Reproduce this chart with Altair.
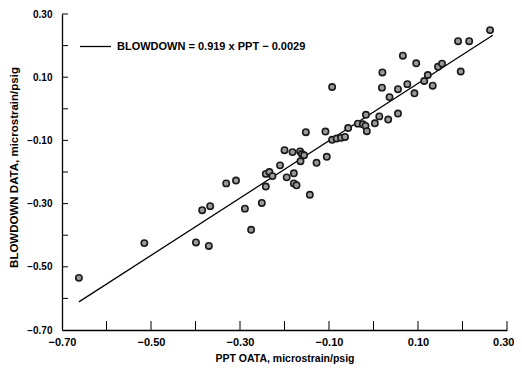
import altair as alt
import pandas as pd

# Data
ppt = [-0.662, -0.515, -0.399, -0.370, -0.385, -0.367, -0.331, -0.309, -0.289, -0.275,
       -0.251, -0.242, -0.242, -0.234, -0.227, -0.210, -0.200, -0.195, -0.182, -0.179,
       -0.179, -0.173, -0.165, -0.161, -0.156, -0.164, -0.152, -0.143, -0.128, -0.108,
       -0.105, -0.093, -0.093, -0.083, -0.073, -0.064, -0.057, -0.035, -0.024, -0.018,
       -0.015, -0.017, 0.003, 0.013, 0.020, 0.019, 0.033, 0.036, 0.055, 0.055,
       0.066, 0.076, 0.092, 0.096, 0.114, 0.122, 0.133, 0.145, 0.154, 0.190,
       0.196, 0.215, 0.262]
blowdown = [-0.535, -0.425, -0.423, -0.434, -0.321, -0.308, -0.236, -0.227, -0.316, -0.383,
            -0.298, -0.246, -0.206, -0.200, -0.213, -0.179, -0.131, -0.217, -0.137, -0.204,
            -0.236, -0.242, -0.135, -0.143, -0.147, -0.166, -0.074, -0.272, -0.171, -0.072,
            -0.152, 0.069, -0.098, -0.094, -0.092, -0.089, -0.061, -0.047, -0.049, -0.054,
            -0.071, -0.019, -0.046, -0.024, 0.115, 0.067, -0.034, 0.037, -0.015, 0.062,
            0.168, 0.078, 0.049, 0.144, 0.088, 0.107, 0.073, 0.133, 0.143, 0.214,
            0.118, 0.214, 0.249]

fit_x = [-0.662, 0.268]
fit_y = [-0.611, 0.233]
fit_label = "BLOWDOWN = 0.919 x PPT \u2212 0.0029"

label_values = [-0.7, -0.5, -0.3, -0.1, 0.1, 0.3]
tick_values = [-0.6, -0.5, -0.4, -0.3, -0.2, -0.1, 0.0, 0.1, 0.2, 0.3]

pts = pd.DataFrame({"ppt": ppt, "blowdown": blowdown})
fit = pd.DataFrame({"ppt": fit_x, "blowdown": fit_y, "label": [fit_label] * 2})
ticks = pd.DataFrame({"v": tick_values})

FONT = "Liberation Sans"
W, H = 445, 316

xscale = alt.Scale(domain=[-0.7, 0.3], nice=False, zero=False)
yscale = alt.Scale(domain=[-0.7, 0.3], nice=False, zero=False)

xaxis = alt.Axis(values=label_values, format=".2f", tickSize=0, grid=False,
                 labelPadding=6, labelFontSize=11, labelFlush=False,
                 labelAlign={"expr": "datum.value > 0.25 ? 'right' : 'center'"},
                 labelOffset={"expr": "datum.value > 0.25 ? 7 : 0"},
                 title="PPT OATA, microstrain/psig", titlePadding=6, titleFontSize=10.5)
yaxis = alt.Axis(values=label_values, format=".2f", tickSize=0, grid=False,
                 labelPadding=10, labelFontSize=10, labelFlush=False,
                 title="BLOWDOWN DATA, microstrain/psig", titleFontSize=11.5,
                 titleX=-48, titleY=153, titleBaseline="middle")

line = alt.Chart(fit).mark_line(color="black", strokeWidth=1.3).encode(
    x=alt.X("ppt:Q", scale=xscale, axis=xaxis),
    y=alt.Y("blowdown:Q", scale=yscale, axis=yaxis),
    color=alt.Color("label:N", scale=alt.Scale(range=["black"]),
                    legend=alt.Legend(title=None, orient="none", legendX=17, legendY=16,
                                      symbolType="stroke", symbolSize=961,
                                      symbolStrokeWidth=1.3, labelFont=FONT,
                                      labelFontSize=11, labelFontWeight="bold",
                                      labelColor="black", labelOffset=5, labelLimit=400)),
)

points = alt.Chart(pts).mark_point(filled=False, fill="#9a9a9a", fillOpacity=1,
                                    stroke="#1a1a1a", strokeWidth=1.6, size=40,
                                    opacity=1).encode(
    x=alt.X("ppt:Q", scale=xscale),
    y=alt.Y("blowdown:Q", scale=yscale),
)

xticks = alt.Chart(ticks).mark_rule(color="black", strokeWidth=1).encode(
    x=alt.X("v:Q", scale=xscale),
    y=alt.value(H),
    y2=alt.value(H - 9),
)
yticks = alt.Chart(ticks).mark_rule(color="black", strokeWidth=1).encode(
    y=alt.Y("v:Q", scale=yscale),
    x=alt.value(0),
    x2=alt.value(6),
)

chart = alt.layer(xticks, yticks, line, points).properties(
    width=W, height=H,
    autosize=alt.AutoSizeParams(type="none"),
    padding={"left": 54, "top": 6, "right": 7, "bottom": 34},
).configure_view(stroke=None).configure_axis(
    domainColor="black", domainWidth=1.3,
    labelFont=FONT, labelFontWeight="bold", labelColor="black",
    titleFont=FONT, titleFontWeight="bold", titleColor="black",
)

chart.save("out.html", embed_options={"renderer": "svg", "actions": False})
